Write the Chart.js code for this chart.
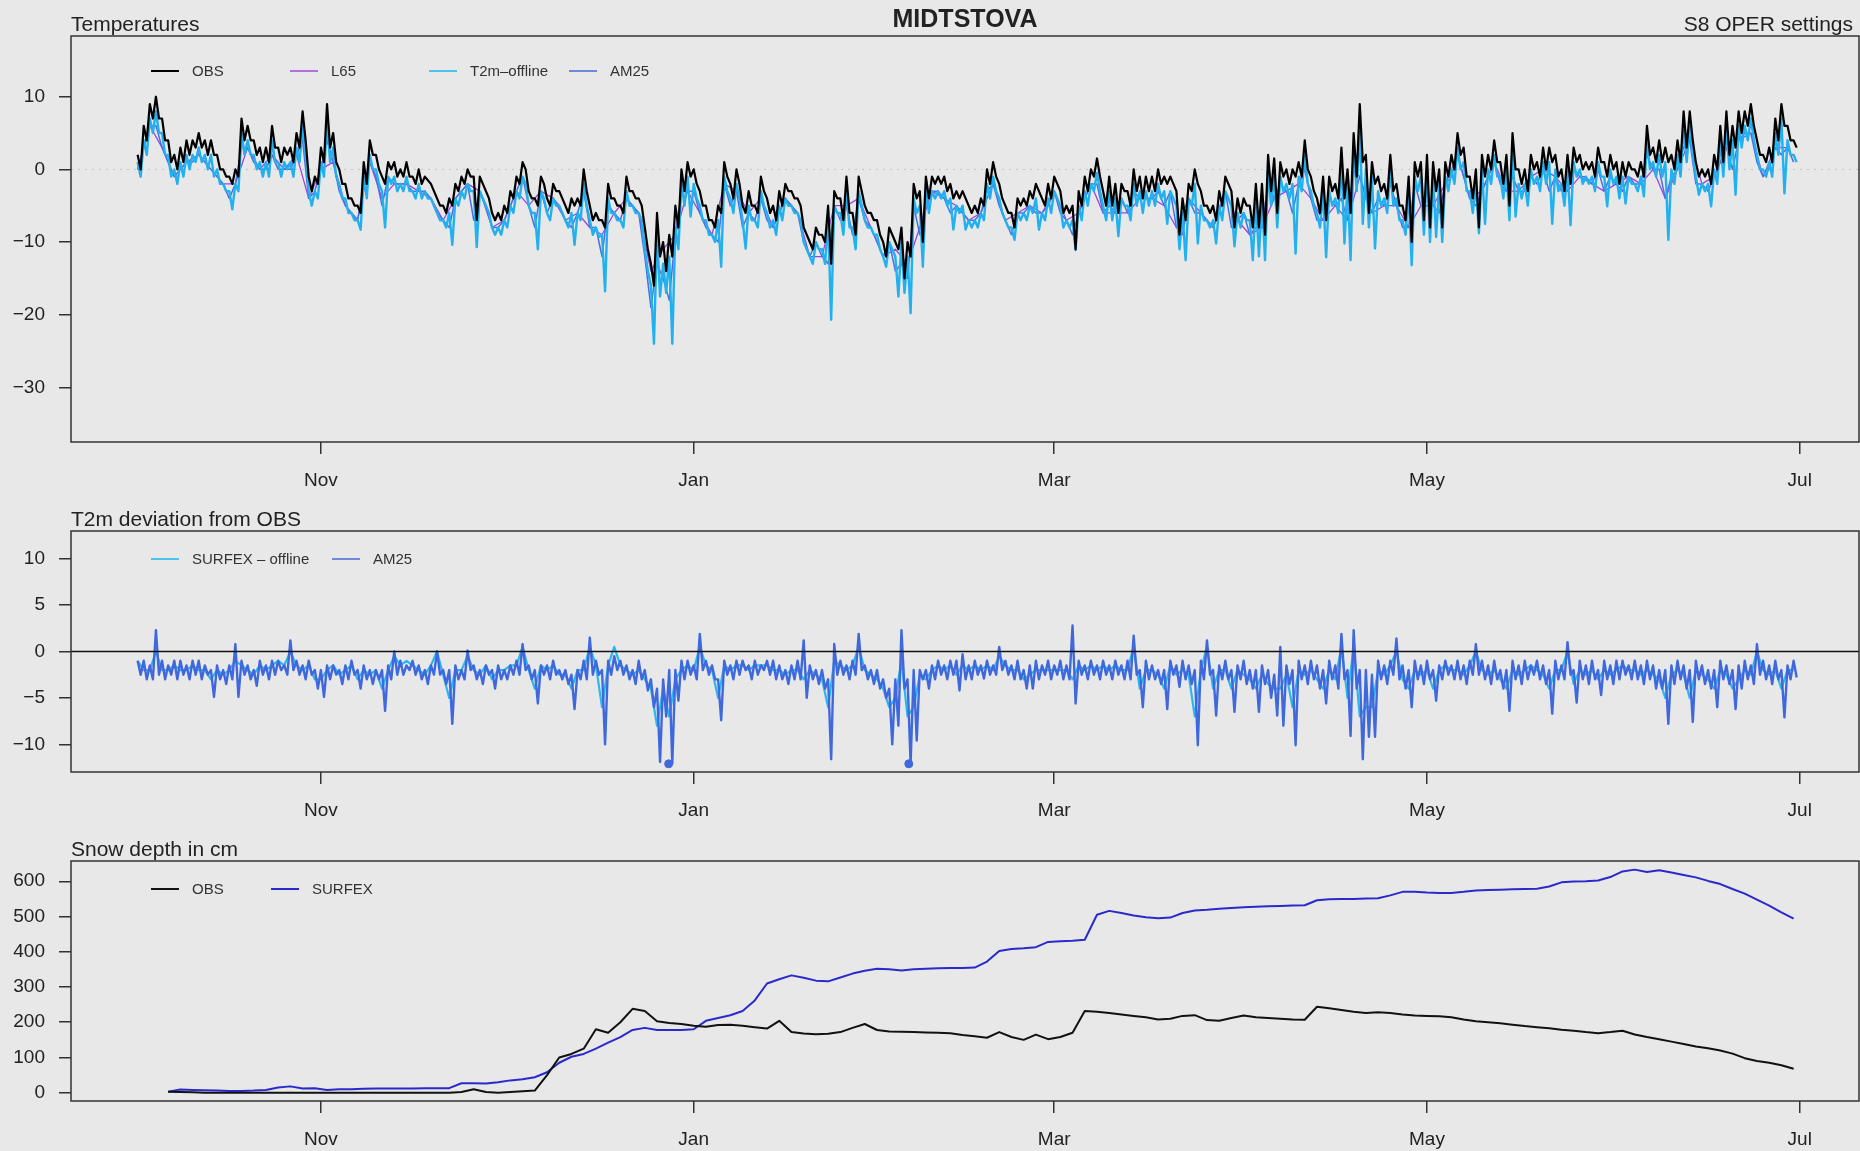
<!DOCTYPE html>
<html>
<head>
<meta charset="utf-8">
<script src="https://cdn.jsdelivr.net/npm/chart.js@4.4.1/dist/chart.umd.min.js"></script>
<style>
  html, body { margin: 0; padding: 0; background: #e8e8e8; }
  #wrap { position: relative; width: 1860px; height: 1151px; overflow: hidden; }
  #wrap canvas { position: absolute; left: 0; }
</style>
</head>
<body>
<div id="wrap">
  <canvas id="temp" width="1860" height="500" style="top:0px"></canvas>
  <canvas id="dev" width="1860" height="330" style="top:500px"></canvas>
  <canvas id="snow" width="1860" height="321" style="top:830px"></canvas>
</div>
<script>
"use strict";

// ---- data (x in days after 1 Nov) ----
const monthNames = ['Nov', 'Jan', 'Mar', 'May', 'Jul'];
const monthDays = [0, 61, 120, 181, 242];
const tempTicks = [-30, -20, -10, 0, 10];
const devTicks = [-10, -5, 0, 5, 10];
const snowTicks = [0, 100, 200, 300, 400, 500, 600];

const tStart = -30;   // first day of the temperature series

// OBS 2m temperature, two readings a day (day max, night min)
const obsT = [
  2,0, 6,4, 9,7, 10,7, 7,4, 4,1, 2,0, 3,1, 4,2, 4,3,
  5,3, 4,2, 4,2, 2,0, 0,-1, -1,-2, 0,-1, 7,4, 6,4, 4,2,
  3,1, 3,1, 6,3, 3,1, 3,2, 3,1, 5,3, 8,4, -1,-3, -1,-2,
  3,1, 9,3, 5,1, 0,-2, -2,-4, -4,-5, -5,-6, 1,-2, 4,2, 2,0,
  -1,-2, 1,0, 1,-1, 0,-1, 1,-1, -1,-2, 0,-2, -1,-1.5, -2,-3, -4,-5,
  -5,-6, -4,-5, -2,-3, -1,-2, 0,-1, -1,-7, -1,-2, -3,-4, -6,-7, -6,-7,
  -5,-6, -3,-4, -1,-2, 1,0, -3,-4, -4,-5, -1,-2, -4,-5, -2,-3, -3,-4,
  -5,-6, -4,-5, -4,-5, 0,-3, -5,-7, -6,-7, -7,-8, -2,-4, -4,-5, -5,-6,
  -1,-3, -3,-4, -4,-5, -8,-11, -13,-16, -6,-12, -10,-14, -9,-12, -5,-8, 0,-3,
  1,-1, 0,-2, -3,-5, -5,-7, -7,-8, -5,-6, 1,-1, -2,-4, 0,-2, -5,-6,
  -3,-5, -5,-6, -1,-3, -4,-6, -5,-7, -3,-5, -2,-3, -3,-4, -4,-5, -8,-9,
  -10,-11, -8,-9, -9,-10, -5,-13, -3,-4, -4,-7, -1,-6, -6,-9, -1,-3, -5,-6,
  -6,-7, -7,-9, -10,-12, -8,-9, -10,-11, -8,-15, -10,-12, -2,-4, -3,-10, -1,-4,
  -1,-2, -1,-2, -1,-3, -2,-4, -3,-4, -3,-4, -5,-6, -5,-6, -4,-5, 0,-2,
  1,-1, -2,-4, -5,-6, -6,-8, -4,-5, -4,-5, -3,-4, -2,-3, -4,-5, -2,-4,
  -1,-2, -3,-6, -5,-6, -5,-11, -3,-5, -1,-3, 0,-1, 1.5,-1, -3,-5, -1,-5,
  -2,-6, -2,-3, -3,-5, 0,-3, -1,-4, -1,-3, -1,-3, 0,-2, -1,-2, -1,-2,
  -3,-9, -4,-7, -2,-3, 0,-2, -3,-5, -5,-6, -5,-7, -3,-5, -1,-2, -3,-8,
  -4,-6, -4,-5, -5,-8, -2,-8, -2,-9, 2,-3, 1.5,-6, 1,-1, 0,-2, 0,-1,
  1,-1, 4,0, -1,-3, -4,-6, -1,-7, -1,-3, -2,-4, 3,-4, 0,-6, 5,-1,
  9,1, 2,-6, 1,-2, -1,-3, -2,-4, 2,-3, -2,-5, -5,-7, -1,-10, 1,-1,
  1,-7, 2,-8, 1,-3, 0,-8, 1,-1, 2,0, 5,2, 3,-1, -1,-4, 0,-8,
  2,-1, 2,0, 4,1, 1,-2, 2,-5, 5,0, 0,-2, 0,-3, 2,0, 1,-1,
  3,0, 3,1, 2,-1, 0,-3, 2,-2, 3,1, 2,0, 1,0, 1,-1, 3,1,
  1,-1, 2,0, 1,-2, 1,-1, 1,0, 0,-1, 1,-1, 6,2, 3,1, 4,1,
  3,1, 2,0, 4,1, 8,3, 8,4, 1,-1, 0,-1, 0,-2, 2,0, 6,1,
  8,2, 6,3, 8,5, 8,6, 9,6, 4,2, 2,1, 3,1, 7,4, 9,6,
  6,4, 4,3
];

// T2m-offline, two readings a day
const t2mOffline = [
  1,-1, 4,2, 7,5, 8,5, 5,2, 2,-1, 0,-2, 1,-1, 2,0, 2,1,
  3,1, 2,0, 2,-1, 0,-2, -2,-3, -3,-5.5, -2,-3, 5,2, 4,2, 2,0,
  1,-1, 1,-1, 4,1, 1,-1, 1,0, 1,-1, 3,1, 6,2, -3,-5, -3,-4,
  1,-1, 7,1, 3,-1, -2,-4, -4,-6, -6,-7, -7,-8.3, -1,-4, 2,0, 0,-2,
  -3,-8, -1,-2, -1,-3, -2,-3, -1,-3, -3,-4, -2,-4, -3,-4, -4,-5, -6,-7,
  -7,-8, -6,-10.4, -4,-5, -3,-4, -2,-3, -3,-10.7, -3,-4, -5,-6, -8,-9, -8,-9,
  -7,-8, -5,-6, -3,-4, -1,-2, -5,-6, -6,-11, -3,-4, -6,-7, -4,-5, -5,-6,
  -7,-8, -6,-10.4, -6,-7, -2,-5, -7,-9, -8,-9.3, -9,-16.8, -4,-6, -6,-7, -7,-8,
  -3,-5, -5,-6, -6,-7, -11,-14, -16,-24, -9,-17.5, -13,-17, -12,-24, -8,-11, -2,-5,
  -1,-6.5, -2,-4, -5,-7, -7,-9, -9,-10, -7,-13.4, -1,-3, -4,-6, -2,-4, -7,-10.9,
  -5,-7, -7,-8, -3,-5, -6,-8, -7,-9, -5,-7, -4,-5, -5,-6, -6,-7, -10,-11,
  -12,-13, -10,-11, -11,-13, -7,-20.7, -5,-6, -6,-9, -3,-8, -8,-11, -3,-5, -7,-8,
  -8,-9, -9,-11, -12,-13.4, -10,-11, -12,-17.5, -10,-17, -12,-19.8, -4,-6, -5,-13.4, -3,-6,
  -3,-4, -3,-4, -3,-5, -4,-8.3, -5,-6, -5,-8.3, -7,-8, -7,-8, -6,-7, -2,-4,
  -1,-3, -4,-6, -7,-8, -8,-9.7, -6,-7, -6,-7, -5,-6, -4,-8.3, -6,-7, -4,-6,
  -3,-4, -5,-8, -7,-8, -7,-11.1, -5,-7, -3,-5, -2,-3, -0.5,-3, -5,-7, -3,-7,
  -4,-9.2, -4,-5, -5,-7, -2,-5, -3,-6, -3,-5, -3,-5, -2,-4, -3,-7.5, -3,-4,
  -5,-11, -6,-12.5, -4,-5, -2,-10.2, -5,-7, -7,-8, -7,-10.2, -5,-7, -3,-4, -5,-10.6,
  -6,-8, -6,-7, -7,-12.5, -4,-12, -4,-12.5, 0,-5, -1,-8, -1,-3, -2,-4, -2,-11.6,
  -1,-3, 2,-2, -3,-5, -6,-8, -3,-12.1, -3,-5, -4,-6, 1,-10.2, -2,-12.5, 3,-3,
  6,-7.5, 0,-8, -1,-10.9, -3,-5, -4,-6, 0,-5, -4,-7, -7,-9, -3,-13.2, -1,-3,
  -1,-9, 0,-10, -1,-9.3, -2,-10, -1,-3, 0,-2, 3,0, 1,-3, -3,-6, -2,-8.8,
  0,-7.5, 0,-2, 2,-1, -1,-4, 0,-7, 3,-6.5, -2,-4, -2,-5, 0,-2, -1,-3,
  1,-2, 1,-7.5, 0,-3, -2,-5, 0,-7.7, 1,-1, 0,-2, -1,-2, -1,-3, 1,-1,
  -1,-5.1, 0,-2, -1,-4, -1,-4.7, -1,-2, -2,-3, -1,-3.7, 4,0, 1,-1, 2,-1,
  1,-9.7, 0,-2, 2,-1, 6,1, 6,2, -1,-3.5, -2,-3, -2,-5.1, 0,-2, 4,-1,
  6,0, 4,-3.5, 6,3, 6,4, 7,4, 2,0, 0,-1, 1,-1, 5,2, 7,-3.3,
  4,2, 2,1
];

// AM25 2m temperature, one reading a day
const am25T = [
  0, 3, 6, 6, 3, 1, -1, 0, 1, 1,
  2, 1, 0, -1, -2, -4, -2, 3, 3, 1,
  0, 0, 2, 0, 0, 0, 2, 4, -4, -3,
  0, 4, 1, -3, -5, -6, -7, -2, 1, -1,
  -5, -1, -2, -2, -2, -3, -3, -3, -4, -6,
  -7, -8, -4, -3, -2, -7, -3, -5, -8, -8,
  -7, -5, -3, -1, -5, -8, -3, -6, -4, -5,
  -7, -8, -6, -3, -8, -8, -12, -5, -6, -7,
  -4, -5, -6, -12, -19, -13, -15, -18, -9, -3,
  -3, -3, -6, -8, -9, -10, -2, -5, -3, -8,
  -6, -7, -4, -7, -8, -6, -4, -5, -6, -10,
  -12, -10, -12, -13, -5, -7, -5, -9, -4, -7,
  -8, -10, -12, -10, -14, -13, -15, -5, -9, -4,
  -3, -3, -4, -6, -5, -6, -7, -7, -6, -3,
  -2, -5, -7, -9, -6, -6, -5, -6, -6, -5,
  -3, -6, -7, -9, -6, -4, -2, -2, -6, -5,
  -6, -4, -6, -3, -4, -4, -4, -3, -5, -3,
  -8, -9, -4, -6, -6, -7, -8, -6, -3, -8,
  -7, -6, -9, -8, -8, -2, -4, -2, -3, -6,
  -2, 0, -4, -7, -7, -4, -5, -4, -7, 0,
  -1, -4, -6, -4, -5, -2, -5, -8, -8, -2,
  -5, -5, -5, -6, -2, -1, 2, -1, -4, -5,
  -3, -1, 1, -2, -3, -1, -3, -3, -1, -2,
  0, -3, -1, -3, -3, 0, -1, -1, -2, 0,
  -3, -1, -2, -3, -1, -2, -2, 2, 0, 0,
  -4, -1, 0, 3, 4, -2, -2, -3, -1, 1,
  3, 0, 4, 5, 5, 1, -1, 0, 3, 2,
  3, 1
];

// L65 2m temperature, one reading every second day
const l65T = [
  0, 6, 3, -1, 1, 2, 0, -2, -2, 3, 0, 2, 0, 2, -4,
  0, 1, -5, -7, 1, -4, -2, -2, -3, -4, -7, -4, -2, -3, -8,
  -7, -3, -5, -3, -4, -7, -6, -8, -9, -6, -4, -6, -14, -11, -9,
  -3, -6, -9, -2, -3, -6, -4, -8, -4, -6, -12, -12, -5, -5, -4,
  -8, -12, -11, -13, -8, -3, -4, -5, -7, -6, -2, -7, -6, -5, -6,
  -3, -7, -6, -2, -6, -6, -6, -4, -4, -5, -8, -4, -6, -8, -3,
  -7, -9, -8, -4, -3, -2, -4, -7, -5, -7, -1, -6, -5, -5, -8,
  -5, -5, -2, 2, -4, -3, 1, -3, -3, -1, 0, -1, -3, -1, -2,
  -3, -2, -1, -2, 0, -4, 0, 4, -2, -1, 3, 4, 5, -1, 3, 3
];

// T2m deviation from OBS: SURFEX-offline (one a day), AM25 (two a day)
const devSurfex = [
  -1, -2, -2, 0, -2, -2, -1.5, -2, -2, -1.5,
  -2, -2, -3, -2, -2.5, -2, -1, -1.5, -2, -2.5,
  -1.5, -2, -1.5, -1, -1.5, 0, -1.5, -2, -1.5, -3,
  -3, -2, -1.5, -2.5, -2, -1.5, -3, -2, -2.5, -2,
  -4, -2, -0.5, -1.5, -1, -1.5, -2, -2.5, -1.5, 0,
  -2.5, -5, -2, -2, -0.5, -2, -2.5, -1.5, -3, -2,
  -2, -1.5, -1.5, 0.5, -2, -4, -1.5, -2, -1.5, -2.5,
  -2.5, -4, -2, -2, 0.5, -1.5, -6, -1.5, 0.5, -1.5,
  -2, -2.5, -2, -3, -4, -8, -4, -7, -3, -2,
  -1.5, -2, 0.5, -1.5, -2, -5, -1.5, -2, -1.5, -1.5,
  -2, -1.5, -1.5, -1.5, -2, -2, -2.5, -2, -2, -3,
  -2, -2.5, -3, -6, -1, -1.5, -2, -1.5, 0.5, -2,
  -2.5, -3, -4, -6, -5, -1, -7, -6, -2.5, -3,
  -2, -1.5, -2, -1.5, -2.5, -1.5, -2, -1.5, -2, -1.5,
  -2, -0.5, -1.5, -2, -2, -3, -2.5, -2, -2, -2,
  -2, -2, -2, -3, -1.5, -2, -1.5, -2, -1.5, -2,
  -1.5, -2, -2, 0.5, -4, -2, -2, -2.5, -4, -1.5,
  -2.5, -2, -2.5, -7, -2, 0.5, -4, -2, -2, -4,
  -2, -2.5, -3, -4, -2.5, -3.5, -4, -4, -2.5, -6,
  -2, -2.5, -2, -3, -4, -2, -3, 0.5, -5, 0.5,
  -7, -6, -6, -2, -2.5, -1.5, 0, -3, -4, -2,
  -2.5, -2, -4, -2, -1.5, -2, -2, -2.5, -1.5, 0,
  -2, -2.5, -2, -3, -4, -2, -2.5, -2, -1.5, -2,
  -2.5, -4, -2, -2, 0, -3.5, -2, -2.5, -2, -3,
  -2, -2.5, -2, -1.5, -2, -2, -2.5, -2, -2.5, -3,
  -5, -2.5, -2, -2.5, -5, -2, -2.5, -3, -4, -2,
  -2.5, -4, -3, -2, -2.5, 0, -2, -2.5, -2, -4,
  -2, -2
];

const devAm25 = [
  -1,-2.5, -1,-3, -1.5,-3, 2.3,-2.5, -1,-3, -1.5,-2.5, -1,-3, -1,-2.5, -1.5,-3, -1,-2.5,
  -1,-3, -1.5,-2.5, -2,-4.9, -1.5,-3, -2,-3.5, -1.5,-3, 0.8,-4.9, -1,-2.5, -1.5,-3, -2,-3.7,
  -1,-2.5, -1.5,-3, -1,-2.5, -1,-2, -1.5,-2.5, 1.2,-2, -1,-2.5, -1.5,-3, -1,-2.5, -2,-4,
  -2,-4.9, -1.5,-3, -1.5,-2.5, -2,-3.5, -1.5,-3, -1,-2.5, -2,-4, -1.5,-3, -2,-3.5, -2,-3,
  -2,-6.4, -1.5,-3, 0,-2.5, -1,-2.5, -1.5,-2, -1,-2.5, -1.5,-3, -2,-3.5, -1.5,-2.5, 0,-2.5,
  -2,-3.5, -2,-7.8, -1.5,-3, -2,-3, 0.1,-2, -1.5,-3, -2,-3.5, -1.5,-2.5, -2,-4, -1.5,-3,
  -2,-3, -1.5,-2.5, -1,-2.5, 0.8,-2, -1.5,-3, -2,-5.6, -1.5,-2.5, -1.5,-3, -1,-2.5, -2,-3,
  -2,-3.5, -2.5,-6.2, -2,-3, -1,-3, 1.5,-2.5, -1,-2.5, -2,-10, -1,-2.5, -0.5,-2, -1,-2.5,
  -1.5,-3, -2,-3.5, -1,-3, -2,-4.2, -3,-6, -4,-11.9, -3,-7, -2,-12.1, -2,-5.3, -1,-3,
  -1,-2.5, -1.5,-3, 1.9,-2, -1,-2.5, -1.5,-3, -3,-7.4, -1,-2.5, -1.5,-3, -1,-2.5, -1,-2,
  -1.5,-3, -1,-2.5, -1.5,-2, -1,-2.5, -1,-3, -1.5,-3, -2,-3.5, -1.5,-3, -1,-3, 1.2,-5,
  -1.5,-3, -2,-3.5, -2,-4, -3,-11.6, 0.8,-2.5, -1,-2.5, -1.5,-3, -1,-2.5, 1.9,-2, -1.5,-3,
  -2,-3.5, -2,-4, -3,-5, -4,-10, -3,-8, 2.3,-4, -3,-12.1, -2,-9.6, -2,-3, -2,-4,
  -1.5,-3, -1,-2.5, -1.5,-3, -1,-2.5, -1,-4.2, -0.3,-3, -1.5,-3, -1,-2.5, -1.5,-2.9, -1,-2.5,
  -1.5,-2.5, 0.5,-2, -1,-2.5, -1.5,-3, -1,-3, -2,-4, -1.5,-4, -1,-3, -1.5,-2.5, -1,-3,
  -1.5,-2.5, -1,-3, -1.5,-3, 2.8,-5.6, -1,-2.5, -1.5,-3, -1,-2.5, -1.5,-3, -1,-2.5, -1.5,-3,
  -1,-2.5, -1.5,-3, -1,-3, 1.7,-2.5, -2,-6, -1,-3, -1.5,-3, -2,-3.5, -2,-6.2, -1,-2.5,
  -1.5,-3.8, -1,-3, -1.5,-3.5, -2,-10.1, -1,-3, 1.2,-2.5, -2,-6.9, -1.5,-3, -1,-3, -2,-6.5,
  -1.5,-3, -1,-3.5, -2,-4, -2,-6.5, -1.5,-3.5, -2,-5, -2.5,-6.9, 0.5,-8, -1.5,-3.5, -2,-10.1,
  -1,-3, -1.5,-3.5, -1,-3, -1.5,-4, -2,-5.6, -1,-3, -1.5,-4, 1.9,-3, -2,-9.1, 2.3,-4,
  -2,-11.6, -2,-9.2, -2.5,-9.2, -1,-3, -1.5,-3.5, -1,-2.5, 1.4,-3, -1.5,-4, -2,-6, -1,-3,
  -1.5,-3.5, -1,-3, -2,-5.3, -1.5,-3, -1,-2.5, -1.5,-3, -1,-3, -1.5,-3.5, -1,-2.5, 0.8,-2.5,
  -1,-3, -1.5,-3.5, -1,-3, -2,-4, -2,-6.4, -1,-3, -1.5,-3.5, -1,-3, -1.5,-2.5, -1,-3,
  -1.5,-3.5, -2,-6.7, -1,-3, -1.5,-3, 1.0,-2.5, -2,-5.5, -1,-3, -1.5,-3.5, -1,-3, -2,-4.7,
  -1,-3, -1.5,-3.5, -1,-3, -1,-2.5, -1.5,-3, -1,-3, -1.5,-3.5, -1,-3, -1.5,-4, -2,-4,
  -2,-7.8, -1.5,-3.5, -1,-3, -1.5,-4, -2,-7.6, -1,-3, -1.5,-3.5, -2,-4, -2,-6, -1,-3,
  -1.5,-3.5, -2,-6.2, -1.5,-4, -1,-3, -1.5,-3.5, 0.8,-2.5, -1,-3, -1.5,-3.5, -1,-3, -2,-7.1,
  -1.5,-3, -1,-2.8
];

// deviations that fall below the axis floor, shown as dots
const devClipDays = [56.9, 96.2];
const devClipVals = [-12.1, -12.1];

// snow depth in cm, one reading every second day
const snowStart = -25;
const snowObs = [
  3, 2, 1, 0, 0, 0, 0, 0, 0, 0,
  0, 0, 0, 0, 0, 0, 0, 0, 0, 0,
  0, 0, 0, 0, 2, 10, 2, 0, 2, 4,
  6, 50, 100, 110, 125, 180, 170, 200, 238, 232,
  203, 198, 195, 190, 187, 192, 193, 190, 186, 182,
  204, 172, 168, 166, 167, 172, 184, 195, 178, 174,
  173, 172, 171, 170, 169, 164, 160, 156, 172, 158,
  150, 165, 152, 158, 170, 232, 230, 226, 222, 218,
  214, 208, 210, 218, 220, 206, 204, 212, 219, 214,
  212, 210, 208, 207, 244, 240, 235, 230, 226, 228,
  226, 222, 219, 218, 217, 214, 208, 203, 200, 197,
  193, 189, 186, 183, 179, 176, 172, 169, 172, 176,
  165, 158, 152, 145, 138, 131, 126, 120, 111, 98,
  90, 85, 78, 68
];
const snowSurfex = [
  3, 9, 8, 7, 6, 5, 5, 6, 8, 15,
  18, 12, 13, 8, 10, 10, 11, 12, 12, 12,
  12, 13, 13, 13, 27, 27, 26, 30, 35, 38,
  44, 58, 85, 102, 110, 125, 142, 158, 178, 184,
  178, 178, 178, 180, 204, 212, 220, 232, 262, 310,
  322, 333, 326, 318, 316, 327, 338, 346, 352, 350,
  347, 350, 352, 353, 354, 354, 355, 372, 402, 408,
  410, 413, 428, 430, 431, 434, 505, 516, 510, 503,
  498, 495, 497, 510, 517, 519, 522, 524, 526, 528,
  529, 530, 531, 532, 546, 549, 550, 550, 551, 552,
  560, 570, 570, 568, 567, 567, 570, 574, 575, 576,
  577, 578, 579, 585, 597, 599, 600, 602, 612, 628,
  633, 626, 631, 625, 618, 611, 601, 592, 578, 565,
  548, 531, 512, 494
];

// ---- drawing ----
const FONT = '"Liberation Sans", Arial, Helvetica, sans-serif';
Chart.defaults.font.family = FONT;
Chart.defaults.color = '#222';

const X_MIN = -40.9, X_MAX = 251.7;

function series(vals, start, step) {
  return vals.map((v, i) => ({ x: start + i * step, y: v }));
}

function minusLabel(v) {
  return v < 0 ? '\u2212' + Math.abs(v) : String(v);
}

function drawZero(chart, z) {
  const ctx = chart.ctx, a = chart.chartArea;
  const py = chart.scales.y.getPixelForValue(0);
  ctx.save();
  ctx.beginPath();
  ctx.strokeStyle = z.color;
  ctx.lineWidth = z.width;
  ctx.setLineDash(z.dash || []);
  ctx.moveTo(a.left, py);
  ctx.lineTo(a.right, py);
  ctx.stroke();
  ctx.restore();
}

const panelDeco = {
  id: 'panelDeco',
  beforeDatasetsDraw(chart, args, o) {
    if (o.zero && !o.zero.onTop) drawZero(chart, o.zero);
  },
  afterDatasetsDraw(chart, args, o) {
    if (o.zero && o.zero.onTop) drawZero(chart, o.zero);
  },
  afterDraw(chart, args, o) {
    const ctx = chart.ctx, a = chart.chartArea;
    ctx.save();
    ctx.strokeStyle = '#333';
    ctx.lineWidth = 1.5;
    ctx.strokeRect(a.left, a.top, a.right - a.left, a.bottom - a.top);

    ctx.fillStyle = '#222';
    ctx.textBaseline = 'alphabetic';
    ctx.font = '21px ' + FONT;
    ctx.textAlign = 'left';
    ctx.fillText(o.title, a.left, a.top - 5);
    if (o.rightTitle) {
      ctx.textAlign = 'right';
      ctx.fillText(o.rightTitle, 1853, a.top - 5);
    }
    if (o.mainTitle) {
      ctx.textAlign = 'center';
      ctx.font = 'bold 25px ' + FONT;
      ctx.fillText(o.mainTitle, (a.left + a.right) / 2, 27);
    }

    ctx.font = '15px ' + FONT;
    ctx.textAlign = 'left';
    ctx.textBaseline = 'middle';
    const ly = a.top + o.legendDy;
    o.legend.forEach((it, i) => {
      const lx = o.legendX[i];
      ctx.strokeStyle = it.color;
      ctx.lineWidth = 2;
      ctx.beginPath();
      ctx.moveTo(lx, ly);
      ctx.lineTo(lx + 28, ly);
      ctx.stroke();
      ctx.fillStyle = '#333';
      ctx.fillText(it.label, lx + 41, ly + 1);
    });
    ctx.restore();
  }
};

function makeChart(id, cfg) {
  const tickGrid = { drawOnChartArea: false, drawTicks: true, tickLength: 12, color: '#333', lineWidth: 1.5 };
  return new Chart(document.getElementById(id), {
    type: 'line',
    data: { datasets: cfg.datasets },
    plugins: [panelDeco],
    options: {
      responsive: false,
      animation: false,
      events: [],
      parsing: false,
      normalized: true,
      layout: { autoPadding: false, padding: { top: cfg.top, left: 0, right: 1, bottom: 0 } },
      elements: { point: { radius: 0 }, line: { tension: 0, borderJoinStyle: 'round' } },
      scales: {
        x: {
          type: 'linear', min: X_MIN, max: X_MAX,
          afterBuildTicks: s => { s.ticks = monthDays.map(v => ({ value: v })); },
          afterFit: s => { s.height = cfg.xh; },
          grid: tickGrid,
          border: { display: false },
          ticks: {
            autoSkip: false, maxRotation: 0, padding: 15,
            font: { size: 19 }, color: '#222',
            callback: v => monthNames[monthDays.indexOf(v)]
          }
        },
        y: {
          type: 'linear', min: cfg.yMin, max: cfg.yMax,
          afterBuildTicks: s => { s.ticks = cfg.yTicks.map(v => ({ value: v })); },
          afterFit: s => { s.width = 71; },
          grid: tickGrid,
          border: { display: false },
          ticks: { padding: 14, font: { size: 19 }, color: '#222', callback: minusLabel }
        }
      },
      plugins: {
        legend: { display: false },
        tooltip: { enabled: false },
        panelDeco: cfg.deco
      }
    }
  });
}

const cObs = '#000000', cL65 = '#9b45dc', cT2m = '#22b0ee', cAm25 = '#4a6fe0';

makeChart('temp', {
  top: 36, xh: 58, yMin: -37.53, yMax: 18.36, yTicks: tempTicks,
  datasets: [
    { label: 'OBS', data: series(obsT, tStart, 0.5), borderColor: cObs, borderWidth: 2.2 },
    { label: 'T2m-offline', data: series(t2mOffline, tStart, 0.5), borderColor: cT2m, borderWidth: 2.4 },
    { label: 'AM25', data: series(am25T, tStart, 1), borderColor: cAm25, borderWidth: 1.5 },
    { label: 'L65', data: series(l65T, tStart, 2), borderColor: cL65, borderWidth: 1.3 }
  ],
  deco: {
    title: 'Temperatures', rightTitle: 'S8 OPER settings', mainTitle: 'MIDTSTOVA',
    zero: { color: '#c4c4c4', width: 1, dash: [2, 5] },
    legendDy: 35, legendX: [151, 290, 429, 569],
    legend: [
      { label: 'OBS', color: cObs },
      { label: 'L65', color: '#b070e0' },
      { label: 'T2m\u2013offline', color: '#4cc4ef' },
      { label: 'AM25', color: '#6f88de' }
    ]
  }
});

makeChart('dev', {
  top: 31, xh: 58, yMin: -12.98, yMax: 12.98, yTicks: devTicks,
  datasets: [
    { label: 'AM25', data: series(devAm25, tStart, 0.5), borderColor: '#3f68dc', borderWidth: 2.4 },
    { label: 'SURFEX - offline', data: series(devSurfex, tStart, 1), borderColor: '#2ab8ee', borderWidth: 2.2 },
    {
      label: 'clipped', data: devClipDays.map((d, i) => ({ x: d, y: devClipVals[i] })),
      showLine: false, pointRadius: 4, pointBackgroundColor: '#3f68dc', pointBorderColor: '#3f68dc'
    }
  ],
  deco: {
    title: 'T2m deviation from OBS',
    zero: { color: '#111', width: 1.5, onTop: true },
    legendDy: 28, legendX: [151, 332],
    legend: [
      { label: 'SURFEX \u2013 offline', color: '#4cc4ef' },
      { label: 'AM25', color: '#6f88de' }
    ]
  }
});

makeChart('snow', {
  top: 31, xh: 50, yMin: -23.5, yMax: 657.5, yTicks: snowTicks,
  datasets: [
    { label: 'OBS', data: series(snowObs, snowStart, 2), borderColor: '#111', borderWidth: 2 },
    { label: 'SURFEX', data: series(snowSurfex, snowStart, 2), borderColor: '#2a2acc', borderWidth: 2 }
  ],
  deco: {
    title: 'Snow depth in cm',
    legendDy: 28, legendX: [151, 271],
    legend: [
      { label: 'OBS', color: '#111' },
      { label: 'SURFEX', color: '#2a2acc' }
    ]
  }
});
</script>
</body>
</html>
